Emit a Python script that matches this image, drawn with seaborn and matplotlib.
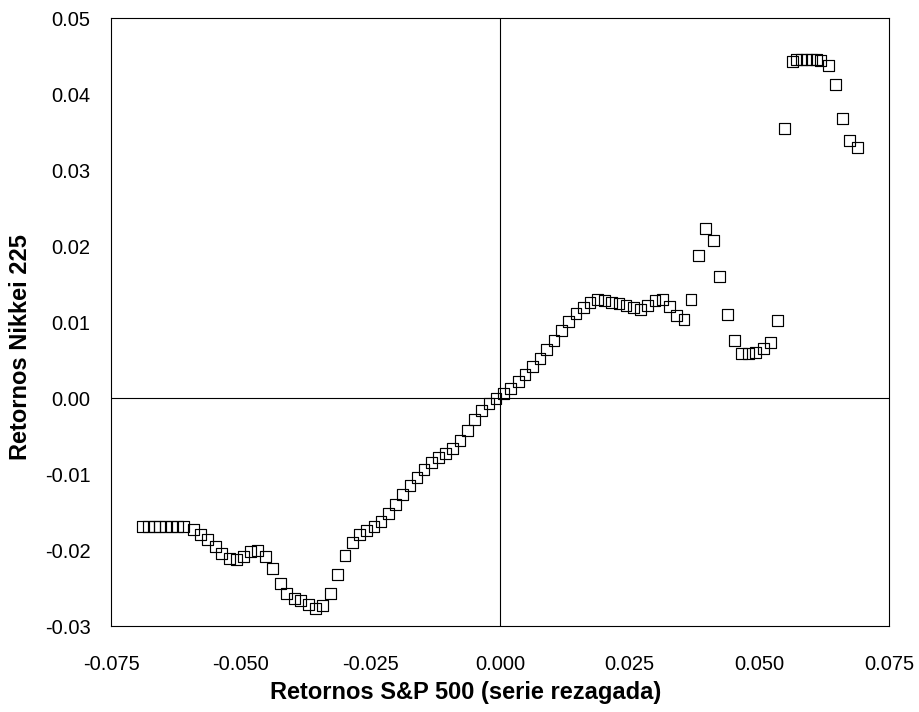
import matplotlib
matplotlib.use("Agg")
import matplotlib.pyplot as plt
import seaborn as sns
import pandas as pd

# Lagged S&P 500 returns (x) and Nikkei 225 returns (y)
sp500_lag = [
    -0.06901, -0.06785, -0.06669, -0.06563, -0.06457, -0.06342, -0.06226, -0.06110,
    -0.05912, -0.05783, -0.05642, -0.05493, -0.05364, -0.05218, -0.05089, -0.04948,
    -0.04805, -0.04670, -0.04530, -0.04389, -0.04241, -0.04111, -0.03971, -0.03842,
    -0.03695, -0.03552, -0.03418, -0.03277, -0.03136, -0.02988, -0.02847, -0.02712,
    -0.02569, -0.02429, -0.02294, -0.02153, -0.02010, -0.01876, -0.01735, -0.01600,
    -0.01465, -0.01317, -0.01182, -0.01047, -0.00912, -0.00771, -0.00630, -0.00495,
    -0.00353, -0.00212, -0.00077, 0.00064, 0.00206, 0.00353, 0.00482, 0.00623,
    0.00771, 0.00900, 0.01041, 0.01189, 0.01317, 0.01465, 0.01606, 0.01735,
    0.01876, 0.02010, 0.02153, 0.02294, 0.02429, 0.02569, 0.02712, 0.02847,
    0.02988, 0.03128, 0.03263, 0.03406, 0.03547, 0.03682, 0.03822, 0.03965,
    0.04111, 0.04241, 0.04381, 0.04516, 0.04659, 0.04800, 0.04934, 0.05075,
    0.05218, 0.05359, 0.05493, 0.05634, 0.05725, 0.05821, 0.05917, 0.06014,
    0.06110, 0.06187, 0.06328, 0.06471, 0.06606, 0.06746, 0.06887,
]
nikkei = [
    -0.01695, -0.01695, -0.01695, -0.01695, -0.01695, -0.01695, -0.01695, -0.01695,
    -0.01725, -0.01791, -0.01857, -0.01954, -0.02041, -0.02107, -0.02129, -0.02086,
    -0.02020, -0.02007, -0.02086, -0.02247, -0.02436, -0.02576, -0.02633, -0.02668,
    -0.02721, -0.02764, -0.02734, -0.02576, -0.02317, -0.02070, -0.01901, -0.01800,
    -0.01743, -0.01691, -0.01625, -0.01514, -0.01396, -0.01274, -0.01155, -0.01041,
    -0.00945, -0.00849, -0.00783, -0.00725, -0.00668, -0.00563, -0.00432, -0.00287,
    -0.00164, -0.00067, -0.00001, 0.00064, 0.00130, 0.00217, 0.00314, 0.00414,
    0.00525, 0.00634, 0.00757, 0.00888, 0.01007, 0.01117, 0.01196, 0.01257,
    0.01292, 0.01283, 0.01262, 0.01239, 0.01217, 0.01191, 0.01170, 0.01217,
    0.01283, 0.01292, 0.01204, 0.01082, 0.01038, 0.01301, 0.01875, 0.02236,
    0.02072, 0.01599, 0.01099, 0.00753, 0.00591, 0.00582, 0.00599, 0.00657,
    0.00736, 0.01025, 0.03542, 0.04428, 0.04450, 0.04459, 0.04459, 0.04459,
    0.04457, 0.04441, 0.04375, 0.04130, 0.03683, 0.03388, 0.03301,
]

x_ticks = [-0.075, -0.050, -0.025, 0.000, 0.025, 0.050, 0.075]
x_tick_labels = ["-0.075", "-0.050", "-0.025", "0.000", "0.025", "0.050", "0.075"]
y_ticks = [-0.03, -0.02, -0.01, 0.00, 0.01, 0.02, 0.03, 0.04, 0.05]
y_tick_labels = ["-0.03", "-0.02", "-0.01", "0.00", "0.01", "0.02", "0.03", "0.04", "0.05"]

x_label = "Retornos S&P 500 (serie rezagada)"
y_label = "Retornos Nikkei 225"

df = pd.DataFrame({"x": sp500_lag, "y": nikkei})

sns.set_theme(style="white")
plt.rcParams["font.family"] = ["Liberation Sans", "DejaVu Sans"]
plt.rcParams["axes.unicode_minus"] = False

fig = plt.figure(figsize=(9.19, 7.12), dpi=100)
ax = fig.add_axes([111 / 919, 1 - 626 / 712, 778 / 919, 608 / 712])

ax.axhline(0, color="black", lw=0.8, zorder=1)
ax.axvline(0, color="black", lw=0.8, zorder=1)

sns.scatterplot(data=df, x="x", y="y", ax=ax, marker="s", s=62,
                facecolors="none", edgecolor="black", linewidth=0.85, zorder=3)

ax.set_xlim(-0.075, 0.075)
ax.set_ylim(-0.03, 0.05)
ax.set_xticks(x_ticks)
ax.set_xticklabels(x_tick_labels)
ax.set_yticks(y_ticks)
ax.set_yticklabels(y_tick_labels)

for sp in ax.spines.values():
    sp.set_visible(True)
    sp.set_color("black")
    sp.set_linewidth(0.8)

ax.tick_params(axis="both", which="major", direction="out", length=7.8, width=0.8,
               color="black", labelsize=14.5, labelcolor="black")
ax.tick_params(axis="x", pad=13)
ax.tick_params(axis="y", pad=7)

ax.set_xlabel(x_label, fontsize=17, fontweight="bold", color="black")
ax.set_ylabel(y_label, fontsize=17, fontweight="bold", color="black")
ax.xaxis.set_label_coords(0.456, -0.09)
ax.yaxis.set_label_coords(-0.101, 0.459)

fig.savefig("out.png", dpi=100, facecolor="white")
